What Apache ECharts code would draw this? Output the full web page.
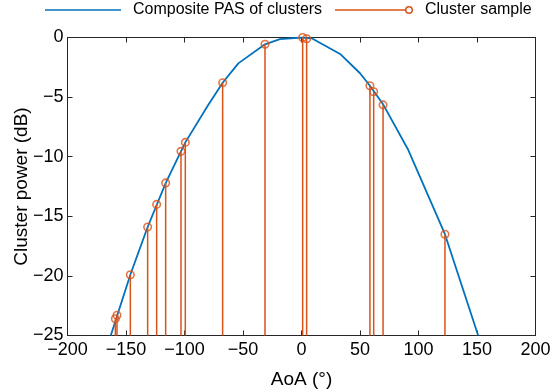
<!DOCTYPE html>
<html>
<head>
<meta charset="utf-8">
<script src="https://cdn.jsdelivr.net/npm/echarts@6/dist/echarts.min.js"></script>
<style>
    html, body { margin: 0; padding: 0; background: #fff; }
    #chart { width: 559px; height: 392px; }
</style>
</head>
<body>
<div id="chart"></div>
<script>
// composite PAS curve (AoA in degrees, power in dB)
var pasAoa = [-163, -146.3, -131.5, -116, -99.3, -80, -67.4, -54, -31.2, -18.4, 0, 8.7, 33, 50, 58.5, 70, 91.3, 122.6, 151];
var pasPower = [-25, -19.9, -15.9, -12.2, -8.8, -5.7, -3.8, -2.17, -0.57, -0.13, 0, -0.07, -1.38, -3.0, -4.05, -5.65, -9.44, -16.5, -25];

// cluster samples
var sampleAoa = [-159.1, -157.7, -146.3, -131.5, -123.8, -116.1, -103, -99.3, -67.4, -31.2, 1.0, 4.4, 58.5, 61.7, 69.7, 122.6];
var samplePower = [-23.6, -23.3, -19.9, -15.9, -14.0, -12.2, -9.55, -8.8, -3.8, -0.57, 0, -0.1, -4.05, -4.55, -5.65, -16.5];

var xTicks = [-200, 200, 50];
var yTicks = [-25, 0, 5];

var blue = '#0072BD';
var orange = '#D95319';
var axisColor = '#262626';
var font = 'Liberation Sans, Arial, Helvetica, sans-serif';

var pasData = pasAoa.map((x, i) => [x, pasPower[i]]);
var sampleData = sampleAoa.map((x, i) => [x, samplePower[i]]);

var minus = v => String(v).replace('-', '\u2212');

var myChart = echarts.init(document.getElementById('chart'));

var baseX = {
    type: 'value',
    min: xTicks[0],
    max: xTicks[1],
    interval: xTicks[2],
    axisLine: { onZero: false, lineStyle: { color: axisColor, width: 1 } },
    axisTick: { inside: true, length: 5, lineStyle: { color: axisColor } },
    splitLine: { show: false }
};
var baseY = {
    type: 'value',
    min: yTicks[0],
    max: yTicks[1],
    interval: yTicks[2],
    axisLine: { onZero: false, lineStyle: { color: axisColor, width: 1 } },
    axisTick: { inside: true, length: 5, lineStyle: { color: axisColor } },
    splitLine: { show: false }
};

var option = {
    animation: false,
    textStyle: { fontFamily: font },
    grid: { left: 67.5, right: 23.5, top: 37.5, bottom: 56.5, outerBoundsMode: 'none', containLabel: false },
    legend: [
        {
            data: [{
                name: 'Composite PAS of clusters',
                icon: 'path://M0,0L76,0L76,1.6L0,1.6Z'
            }],
            left: 45,
            top: 2,
            padding: 0,
            itemWidth: 76,
            itemHeight: 1.6,
            textStyle: { fontSize: 16, color: '#000', fontFamily: font, padding: [0, 0, 0, 7] }
        },
        {
            data: [{
                name: 'Cluster sample',
                icon: 'path://M0,3.3L70.5,3.3L70.5,4.7L0,4.7Z M74,0A4,4 0 1 1 74,8A4,4 0 1 1 74,0Z M74,1.5A2.5,2.5 0 1 0 74,6.5A2.5,2.5 0 1 0 74,1.5Z'
            }],
            left: 335,
            top: 2,
            padding: 0,
            itemWidth: 78,
            itemHeight: 8,
            textStyle: { fontSize: 16, color: '#000', fontFamily: font, padding: [0, 0, 0, 7] }
        }
    ],
    xAxis: [
        Object.assign({}, baseX, {
            position: 'bottom',
            name: 'AoA (\u00b0)',
            nameLocation: 'middle',
            nameGap: 35,
            nameMoveOverlap: false,
            nameTextStyle: { fontSize: 19, color: '#000', fontFamily: font },
            axisLabel: { fontSize: 18, color: '#000', margin: 6, formatter: minus }
        }),
        Object.assign({}, baseX, {
            position: 'top',
            axisLabel: { show: false }
        })
    ],
    yAxis: [
        Object.assign({}, baseY, {
            position: 'left',
            name: 'Cluster power (dB)',
            nameLocation: 'middle',
            nameGap: 36,
            nameMoveOverlap: false,
            nameTextStyle: { fontSize: 19, color: '#000', fontFamily: font },
            axisLabel: { fontSize: 18, color: '#000', margin: 4, formatter: minus }
        }),
        Object.assign({}, baseY, {
            position: 'right',
            axisLabel: { show: false }
        })
    ],
    series: [
        {
            name: 'Composite PAS of clusters',
            type: 'line',
            data: pasData,
            symbol: 'none',
            clip: true,
            color: blue,
            lineStyle: { color: blue, width: 1.8 },
            z: 2
        },
        {
            name: 'Cluster sample',
            type: 'custom',
            data: sampleData,
            color: orange,
            itemStyle: { color: orange },
            renderItem: function (params, api) {
                var top = api.coord([api.value(0), api.value(1)]);
                var bottom = api.coord([api.value(0), yTicks[0]]);
                return {
                    type: 'line',
                    shape: { x1: top[0], y1: top[1], x2: bottom[0], y2: bottom[1] },
                    style: { stroke: orange, lineWidth: 1.5 }
                };
            },
            z: 3
        },
        {
            name: 'Cluster sample',
            type: 'scatter',
            data: sampleData,
            symbol: 'circle',
            symbolSize: 7.5,
            itemStyle: { color: 'rgba(0,0,0,0)', borderColor: orange, borderWidth: 1.6 },
            z: 4
        }
    ]
};

if (option && typeof option === "object") {
    myChart.setOption(option, true);
}
</script>
</body>
</html>
